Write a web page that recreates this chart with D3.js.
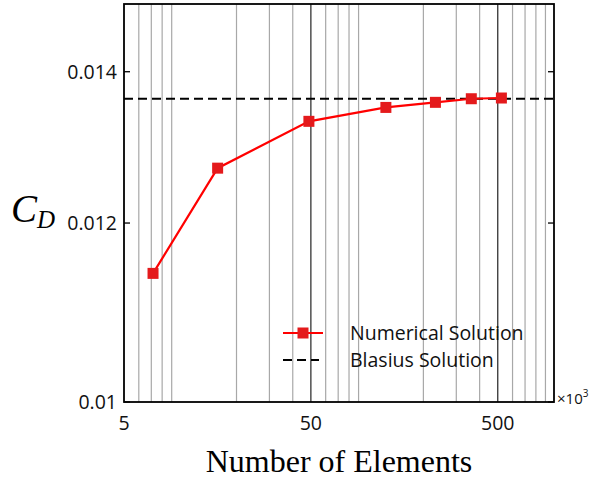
<!DOCTYPE html>
<html>
<head>
<meta charset="utf-8">
<script src="https://cdn.jsdelivr.net/npm/d3@7"></script>
<style>
  body { margin: 0; background: #fff; }
  svg { display: block; }
  .tick-label { font-family: "Open Sans", sans-serif; font-size: 19.5px; fill: #111; }
</style>
</head>
<body>
<svg id="chart" width="590" height="481"></svg>
<script>
// data (elements in thousands)
var elements = [7.15, 15.85, 48.8, 126, 232, 361, 523];
var cdValues = [0.01140, 0.01269, 0.01331, 0.01350, 0.01357, 0.01362, 0.01363];
var blasius = 0.01362;
var xTicks = [5, 50, 500];
var yTicks = [0.01, 0.012, 0.014];
var xGrid = [6, 7, 8, 9, 20, 30, 40, 60, 70, 80, 90, 200, 300, 400, 600, 700, 800, 900];
var xMajorGrid = [50, 500];

var margin = {top: 4, right: 36, bottom: 79, left: 124},
    width = 590 - margin.left - margin.right,
    height = 481 - margin.top - margin.bottom;

var svg = d3.select("#chart")
  .append("g")
  .attr("transform", "translate(" + margin.left + "," + margin.top + ")");

var x = d3.scaleLog().domain([5, 1000]).range([0, width]);
var y = d3.scaleLog().domain([0.01, 0.015]).range([height, 0]);

// grid lines
svg.selectAll(".grid")
  .data(xGrid)
  .enter().append("line")
  .attr("x1", d => x(d)).attr("x2", d => x(d))
  .attr("y1", 0).attr("y2", height)
  .attr("stroke", "#a8a8a8")
  .attr("stroke-width", 1.2);

svg.selectAll(".majorgrid")
  .data(xMajorGrid)
  .enter().append("line")
  .attr("x1", d => x(d)).attr("x2", d => x(d))
  .attr("y1", 0).attr("y2", height)
  .attr("stroke", "#333")
  .attr("stroke-width", 1.3);

// y ticks (inward, both sides)
yTicks.forEach(function(t) {
  svg.append("line")
    .attr("x1", 0).attr("x2", 6)
    .attr("y1", y(t)).attr("y2", y(t))
    .attr("stroke", "#000").attr("stroke-width", 1.3);
  svg.append("line")
    .attr("x1", width - 6).attr("x2", width)
    .attr("y1", y(t)).attr("y2", y(t))
    .attr("stroke", "#000").attr("stroke-width", 1.3);
  svg.append("text")
    .attr("class", "tick-label")
    .attr("x", -7)
    .attr("y", y(t))
    .attr("dy", "0.36em")
    .attr("text-anchor", "end")
    .text(d3.format("")(t));
});

// x tick labels
svg.selectAll(".xlab")
  .data(xTicks)
  .enter().append("text")
  .attr("class", "tick-label")
  .attr("x", d => x(d))
  .attr("y", height + 28)
  .attr("text-anchor", "middle")
  .text(d => d);

// ×10^3
var mult = svg.append("text")
  .attr("class", "tick-label")
  .attr("x", width + 3)
  .attr("y", height + 2)
  .style("font-size", "15px");
mult.append("tspan").text("\u00d710");
mult.append("tspan").attr("dy", -7).style("font-size", "10px").text("3");

// Blasius dashed line
svg.append("line")
  .attr("x1", 0).attr("x2", width)
  .attr("y1", y(blasius)).attr("y2", y(blasius))
  .attr("stroke", "#000")
  .attr("stroke-width", 2)
  .attr("stroke-dasharray", "9,5");

// numerical line
var valueLine = d3.line()
  .x(function(d, i) { return x(elements[i]); })
  .y(function(d) { return y(d); });

svg.append("path")
  .attr("d", valueLine(cdValues))
  .attr("fill", "none")
  .attr("stroke", "#ff0000")
  .attr("stroke-width", 2.2);

svg.selectAll(".pt")
  .data(cdValues)
  .enter().append("rect")
  .attr("x", (d, i) => x(elements[i]) - 5.5)
  .attr("y", d => y(d) - 5.5)
  .attr("width", 11).attr("height", 11)
  .attr("fill", "#e41a1c");

// frame
svg.append("rect")
  .attr("x", 0).attr("y", 0)
  .attr("width", width).attr("height", height)
  .attr("fill", "none")
  .attr("stroke", "#000")
  .attr("stroke-width", 1.8);

// legend
var lg = svg.append("g").attr("transform", "translate(" + (283 - margin.left) + "," + (333 - margin.top) + ")");
lg.append("line").attr("x1", 0).attr("x2", 40).attr("y1", 0).attr("y2", 0)
  .attr("stroke", "#ff0000").attr("stroke-width", 2.2);
lg.append("rect").attr("x", 14.5).attr("y", -5.5).attr("width", 11).attr("height", 11).attr("fill", "#e41a1c");
lg.append("text").attr("class", "tick-label").attr("x", 67).attr("y", 0).attr("dy", "0.36em")
  .text("Numerical Solution");
lg.append("line").attr("x1", 0).attr("x2", 36).attr("y1", 27).attr("y2", 27)
  .attr("stroke", "#000").attr("stroke-width", 2).attr("stroke-dasharray", "9,5");
lg.append("text").attr("class", "tick-label").attr("x", 67).attr("y", 27).attr("dy", "0.36em")
  .text("Blasius Solution");

// axis titles
d3.select("#chart").append("text")
  .attr("x", 339).attr("y", 472)
  .attr("text-anchor", "middle")
  .style("font-family", "'Liberation Serif', 'Times New Roman', serif")
  .style("font-size", "32px")
  .text("Number of Elements");

var cd = d3.select("#chart").append("text")
  .attr("x", 11).attr("y", 222)
  .style("font-family", "'Liberation Serif', 'Times New Roman', serif")
  .style("font-style", "italic")
  .style("font-size", "39px");
cd.append("tspan").text("C");
cd.append("tspan").attr("dy", 6).style("font-size", "25px").text("D");
</script>
</body>
</html>
